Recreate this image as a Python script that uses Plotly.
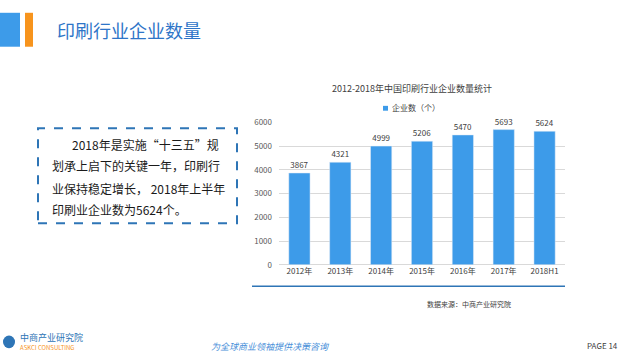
import plotly.graph_objects as go

categories = ["2012年", "2013年", "2014年", "2015年", "2016年", "2017年", "2018H1"]
values = [3867, 4321, 4999, 5206, 5470, 5693, 5624]
y_ticks = [0, 1000, 2000, 3000, 4000, 5000, 6000]
chart_title = "2012-2018年中国印刷行业企业数量统计"
series_name = "企业数（个）"
page_title = "印刷行业企业数量"
body_lines = ["2018年是实施“十三五”规", "划承上启下的关键一年，印刷行", "业保持稳定增长， 2018年上半年", "印刷业企业数为5624个。"]

W, H = 625, 360
def px(x): return x / W
def py(y): return 1 - y / H

FONT = "Noto Sans CJK SC, Microsoft YaHei, sans-serif"
BAR = "#3d9be9"

fig = go.Figure()
fig.add_trace(go.Bar(
    x=categories, y=values, name=series_name,
    marker_color=BAR, width=0.52,
    text=[str(v) for v in values], textposition="outside",
    textfont=dict(size=8, color="#404040", family=FONT),
    cliponaxis=False,
))

fig.update_layout(
    width=W, height=H, margin=dict(l=0, r=0, t=0, b=0),
    paper_bgcolor="white", plot_bgcolor="white",
    font=dict(family=FONT),
    showlegend=False,
    xaxis=dict(domain=[px(279), px(565)], anchor="y", showline=False, ticks="",
               tickfont=dict(size=8, color="#404040"), showgrid=False),
    yaxis=dict(domain=[py(267), py(120)], range=[0, 6000], tickvals=y_ticks,
               showgrid=True, gridcolor="#d9d9d9", gridwidth=1, zeroline=True,
               zerolinecolor="#d9d9d9", zerolinewidth=1, showline=False, ticks="",
               tickfont=dict(size=8, color="#595959"), ticklabelstandoff=6),
)

shapes = []
shapes.append(dict(type="rect", xref="paper", yref="paper", x0=px(0), x1=px(20), y0=py(42), y1=py(7),
                   fillcolor="#3d9be9", line=dict(width=0)))
shapes.append(dict(type="rect", xref="paper", yref="paper", x0=px(25), x1=px(33), y0=py(42), y1=py(7),
                   fillcolor="#f7941d", line=dict(width=0)))
shapes.append(dict(type="rect", xref="paper", yref="paper", x0=px(38), x1=px(237), y0=py(224), y1=py(126),
                   fillcolor="rgba(0,0,0,0)", line=dict(color="#2e75b6", width=2, dash="dash")))
shapes.append(dict(type="line", xref="paper", yref="paper", x0=px(252), x1=px(565), y0=py(289), y1=py(289),
                   line=dict(color="#2e75b6", width=1.5)))
shapes.append(dict(type="rect", xref="paper", yref="paper", x0=px(383), x1=px(388), y0=py(108), y1=py(103),
                   fillcolor=BAR, line=dict(width=0)))
shapes.append(dict(type="circle", xref="paper", yref="paper", x0=px(3), x1=px(15), y0=py(353), y1=py(340),
                   fillcolor="#2e75b6", line=dict(width=0)))
fig.update_layout(shapes=shapes)

ann = []
ann.append(dict(text=page_title, x=px(55), y=py(25), xref="paper", yref="paper", xanchor="left", yanchor="middle",
                showarrow=False, font=dict(size=18, color="#2e75c8", family=FONT)))
ann.append(dict(text=chart_title, x=px(412), y=py(85), xref="paper", yref="paper", xanchor="center", yanchor="middle",
                showarrow=False, font=dict(size=9, color="#404040", family=FONT)))
ann.append(dict(text=series_name, x=px(390), y=py(105), xref="paper", yref="paper", xanchor="left", yanchor="middle",
                showarrow=False, font=dict(size=8, color="#404040", family=FONT)))
line_y = [143, 165, 188, 210]
line_x = [70, 50, 50, 50]
for t, yy, xx in zip(body_lines, line_y, line_x):
    ann.append(dict(text=t, x=px(xx), y=py(yy), xref="paper", yref="paper", xanchor="left", yanchor="middle",
                    showarrow=False, font=dict(size=12, color="#1a1a1a", family=FONT)))
ann.append(dict(text="数据来源：中商产业研究院", x=px(425), y=py(307), xref="paper", yref="paper", xanchor="left",
                yanchor="middle", showarrow=False, font=dict(size=7, color="#404040", family=FONT)))
ann.append(dict(text="中商产业研究院", x=px(18), y=py(342), xref="paper", yref="paper", xanchor="left",
                yanchor="middle", showarrow=False, font=dict(size=9, color="#2e75b6", family=FONT)))
ann.append(dict(text="ASKCI CONSULTING", x=px(18), y=py(352), xref="paper", yref="paper", xanchor="left",
                yanchor="middle", showarrow=False, font=dict(size=6, color="#f7941d", family=FONT)))
ann.append(dict(text="<i>为全球商业领袖提供决策咨询</i>", x=px(270), y=py(351), xref="paper", yref="paper", xanchor="center",
                yanchor="middle", showarrow=False, font=dict(size=9, color="#4a90d9", family=FONT)))
ann.append(dict(text="PAGE 14", x=px(620), y=py(350), xref="paper", yref="paper", xanchor="right",
                yanchor="middle", showarrow=False, font=dict(size=8, color="#404040", family=FONT)))
fig.update_layout(annotations=ann)

fig.write_html("out.html", config={"displayModeBar": False},
               post_script="document.body.style.margin='0';document.body.style.overflow='hidden';")
